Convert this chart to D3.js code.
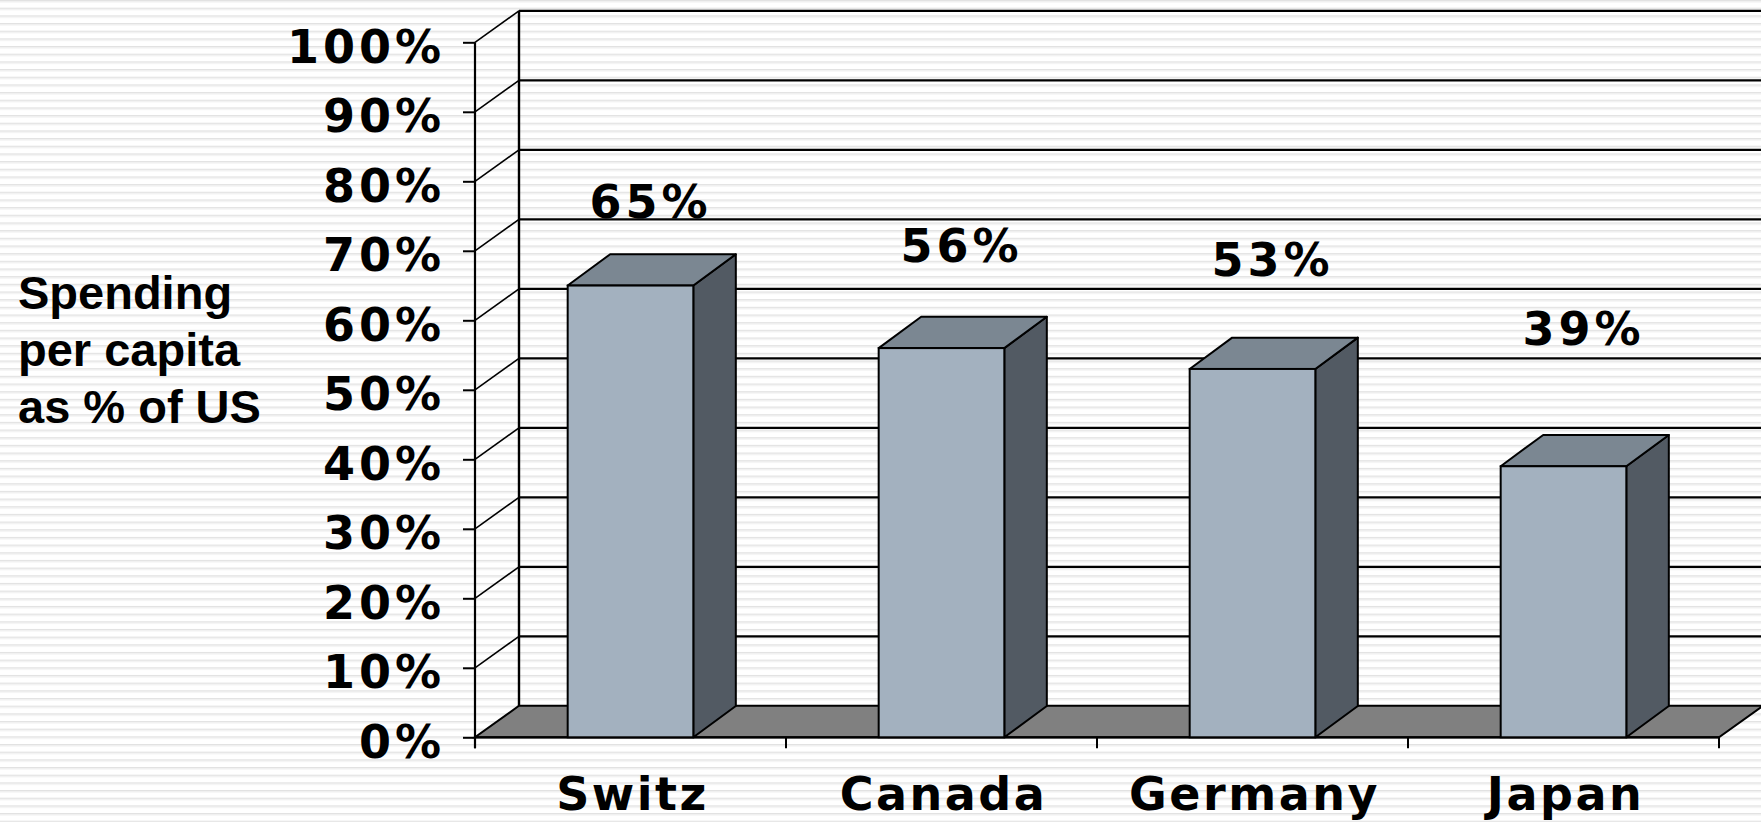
<!DOCTYPE html>
<html><head><meta charset="utf-8">
<script src="https://cdn.jsdelivr.net/npm/d3@7/dist/d3.min.js"></script>
<style>html,body{margin:0;padding:0;background:#fff;overflow:hidden}svg{display:block}</style>
</head><body>
<svg id="chart" width="1761" height="822"></svg>
<script>
const categories = ["Switz", "Canada", "Germany", "Japan"];
const values = [65, 56, 53, 39];
const valueLabels = ["65%", "56%", "53%", "39%"];
const yTicks = [0, 10, 20, 30, 40, 50, 60, 70, 80, 90, 100];
const yTickLabels = ["0%", "10%", "20%", "30%", "40%", "50%", "60%", "70%", "80%", "90%", "100%"];
const yTitleLines = ["Spending", "per capita", "as % of US"];

const W = 1761, H = 822;
const svg = d3.select("#chart");

// background stripes
const defs = svg.append("defs");
const pat = defs.append("pattern").attr("id", "stripes").attr("patternUnits", "userSpaceOnUse")
  .attr("width", 20).attr("height", 7.67);
pat.append("rect").attr("width", 20).attr("height", 7.67).attr("fill", "#ffffff");
pat.append("rect").attr("y", 0).attr("width", 20).attr("height", 1.2).attr("fill", "#e2e2e2");
pat.append("rect").attr("y", 1.2).attr("width", 20).attr("height", 1.2).attr("fill", "#eeeeee");
svg.append("rect").attr("width", W).attr("height", H).attr("fill", "url(#stripes)");

const x0 = 475, x1 = 1719, yBase = 737.3, yTop = 42.3;
const depthX = 44, depthY = 31.5;
const barDX = 42.5, barDY = 31.3;

const x = d3.scaleBand().domain(categories).range([x0, x1]).paddingInner(0).paddingOuter(0);
const y = d3.scaleLinear().domain([0, 100]).range([yBase, yTop]);
const labelY = d3.scaleLinear().domain([0, 100]).range([536, 46]);
const bw = x.bandwidth() * 0.404;

// back wall gridlines
const g = svg.append("g");
g.selectAll("line.grid").data(yTicks.filter(t => t > 0)).join("line")
  .attr("x1", x0 + depthX).attr("x2", W + 10)
  .attr("y1", d => y(d) - depthY).attr("y2", d => y(d) - depthY)
  .attr("stroke", "#000").attr("stroke-width", 2.2);
// left wall diagonals
g.selectAll("line.diag").data(yTicks.filter(t => t > 0)).join("line")
  .attr("x1", x0).attr("x2", x0 + depthX)
  .attr("y1", d => y(d)).attr("y2", d => y(d) - depthY)
  .attr("stroke", "#000").attr("stroke-width", 1.6);
// back wall vertical edge
g.append("line").attr("x1", x0 + depthX).attr("x2", x0 + depthX)
  .attr("y1", y(100) - depthY).attr("y2", y(0) - depthY)
  .attr("stroke", "#000").attr("stroke-width", 2.4);

// floor
g.append("polygon")
  .attr("points", [[x0, yBase], [x1, yBase], [x1 + depthX, yBase - depthY], [x0 + depthX, yBase - depthY]].map(p => p.join(",")).join(" "))
  .attr("fill", "#808080").attr("stroke", "#000").attr("stroke-width", 2).attr("stroke-linejoin", "miter");

// front y axis
const yAxis = d3.axisLeft(y).tickValues(yTicks).tickSize(12).tickPadding(18)
  .tickFormat((d, i) => yTickLabels[i]);
const ya = svg.append("g").attr("transform", `translate(${x0},0)`).call(yAxis);
ya.select(".domain").remove();
ya.selectAll(".tick line").attr("stroke", "#000").attr("stroke-width", 2);
ya.selectAll(".tick text").attr("fill", "#000").attr("dy", "0.43em")
  .style("font-family", "'DejaVu Sans', Verdana, sans-serif").style("font-size", "46px")
  .style("font-weight", "bold").style("letter-spacing", "4px");
svg.append("line").attr("x1", x0).attr("x2", x0).attr("y1", yTop).attr("y2", yBase + 11)
  .attr("stroke", "#000").attr("stroke-width", 2.2);

// x axis line + ticks
svg.append("line").attr("x1", x0).attr("x2", x1).attr("y1", yBase).attr("y2", yBase)
  .attr("stroke", "#000").attr("stroke-width", 2.2);
const boundaries = categories.map(c => x(c)).concat([x1]);
svg.selectAll("line.xt").data(boundaries).join("line")
  .attr("x1", d => d).attr("x2", d => d).attr("y1", yBase).attr("y2", yBase + 11)
  .attr("stroke", "#000").attr("stroke-width", 2);

// bars
const bars = svg.append("g").selectAll("g.bar").data(categories.map((c, i) => ({ c, v: values[i], lab: valueLabels[i] }))).join("g");
bars.each(function (d) {
  const gg = d3.select(this);
  const xl = x(d.c) + x.bandwidth() / 2 - bw / 2, xr = xl + bw;
  const yt = y(d.v), yb = y(0);
  const pts = a => a.map(p => p.join(",")).join(" ");
  gg.append("polygon").attr("points", pts([[xr, yt], [xr + barDX, yt - barDY], [xr + barDX, yb - barDY], [xr, yb]]))
    .attr("fill", "#525a63").attr("stroke", "#000").attr("stroke-width", 2).attr("stroke-linejoin", "round");
  gg.append("polygon").attr("points", pts([[xl, yt], [xl + barDX, yt - barDY], [xr + barDX, yt - barDY], [xr, yt]]))
    .attr("fill", "#7b8792").attr("stroke", "#000").attr("stroke-width", 2).attr("stroke-linejoin", "round");
  gg.append("rect").attr("x", xl).attr("y", yt).attr("width", bw).attr("height", yb - yt)
    .attr("fill", "#a3b1bf").attr("stroke", "#000").attr("stroke-width", 2);
});

// value labels
svg.selectAll("text.val").data(categories).join("text")
  .attr("x", c => x(c) + x.bandwidth() / 2 + 20)
  .attr("y", (c, i) => labelY(values[i]))
  .attr("text-anchor", "middle")
  .style("font-family", "'DejaVu Sans', Verdana, sans-serif").style("font-size", "46px")
  .style("font-weight", "bold").style("letter-spacing", "4px")
  .text((c, i) => valueLabels[i]);

// category labels
svg.selectAll("text.cat").data(categories).join("text")
  .attr("x", c => x(c) + x.bandwidth() / 2 + 2)
  .attr("y", 809.5)
  .attr("text-anchor", "middle")
  .style("font-family", "'DejaVu Sans', Verdana, sans-serif").style("font-size", "46px")
  .style("font-weight", "bold").style("letter-spacing", "2.5px")
  .text(c => c);

// y title
svg.append("text").attr("x", 18).attr("y", 309)
  .style("font-family", "'Liberation Sans', Arial, sans-serif").style("font-size", "47px")
  .style("font-weight", "bold")
  .selectAll("tspan").data(yTitleLines).join("tspan")
  .attr("x", 18).attr("dy", (d, i) => i === 0 ? 0 : 57).text(d => d);
</script>
</body></html>
